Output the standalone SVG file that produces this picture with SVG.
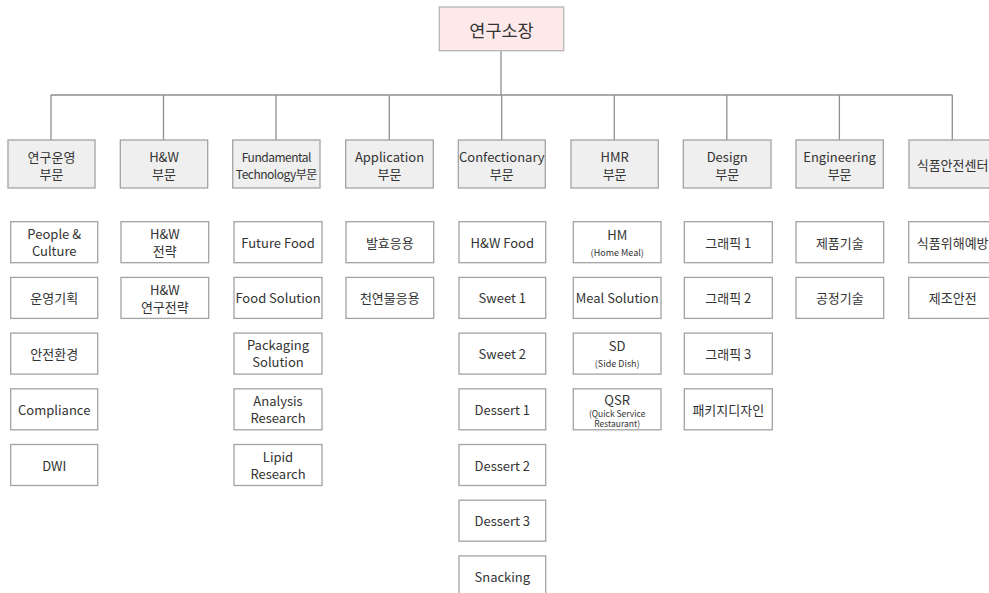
<svg xmlns="http://www.w3.org/2000/svg" width="989" height="593" viewBox="0 0 989 593">
<style>
text{font-family:"Noto Sans CJK KR","Noto Sans",sans-serif;fill:#333;text-anchor:middle;dominant-baseline:central;font-size:13px}
.root rect{fill:#fde9ea;stroke:#b5b5b5;stroke-width:1.3}
.root text{font-size:17.5px}
.dept rect{fill:#efefef;stroke:#a3a3a3;stroke-width:1.3}
.child rect{fill:#fff;stroke:#a3a3a3;stroke-width:1.3}
.sm{font-size:9px}
.xs{font-size:8.5px}
.fund{font-size:12px;letter-spacing:-0.5px}
#connectors path{fill:none;stroke:#8f8f8f;stroke-width:1.3}
</style>
<rect width="989" height="593" fill="#fff"/>
<g id="connectors">
<path d="M501 50.7V95M50.7 95H952.3"/>
<path d="M51 95V140M163.5 95V140M276 95V140M389.3 95V140M501.7 95V140M614.3 95V140M726.8 95V140M839.4 95V140M952.3 95V140"/>
</g>
<g id="root" class="root"><rect x="439.3" y="7" width="124.4" height="43.7"/><text x="501.5" y="29">연구소장</text></g>
<g id="dept-1" class="dept"><rect x="8" y="140" width="87" height="48"/><text x="51.5" y="156.5">연구운영</text><text x="51.5" y="173.3">부문</text></g>
<g id="dept-2" class="dept"><rect x="120.3" y="140" width="87.4" height="48"/><text x="164" y="156.5">H&amp;W</text><text x="164" y="173.3">부문</text></g>
<g id="dept-3" class="dept"><rect x="232.7" y="140" width="87.3" height="48"/><text x="276.3" y="156.5" class="fund">Fundamental</text><text x="276.3" y="173.3" class="fund">Technology부문</text></g>
<g id="dept-4" class="dept"><rect x="345.7" y="140" width="87.6" height="48"/><text x="389.5" y="156.5">Application</text><text x="389.5" y="173.3">부문</text></g>
<g id="dept-5" class="dept"><rect x="458.3" y="140" width="87" height="48"/><text x="501.8" y="156.5">Confectionary</text><text x="501.8" y="173.3">부문</text></g>
<g id="dept-6" class="dept"><rect x="571" y="140" width="87.3" height="48"/><text x="614.6" y="156.5">HMR</text><text x="614.6" y="173.3">부문</text></g>
<g id="dept-7" class="dept"><rect x="683.3" y="140" width="87.7" height="48"/><text x="727.2" y="156.5">Design</text><text x="727.2" y="173.3">부문</text></g>
<g id="dept-8" class="dept"><rect x="796" y="140" width="87.3" height="48"/><text x="839.6" y="156.5">Engineering</text><text x="839.6" y="173.3">부문</text></g>
<g id="dept-9" class="dept"><rect x="909" y="140" width="87.3" height="48"/><text x="952.6" y="164">식품안전센터</text></g>

<g id="c1-1" class="child"><rect x="10.7" y="221.7" width="87" height="41"/><text x="54.2" y="233.5">People &amp;</text><text x="54.2" y="250.5">Culture</text></g>
<g id="c1-2" class="child"><rect x="10.7" y="277.4" width="87" height="41"/><text x="54.2" y="297.9">운영기획</text></g>
<g id="c1-3" class="child"><rect x="10.7" y="333.1" width="87" height="41"/><text x="54.2" y="353.6">안전환경</text></g>
<g id="c1-4" class="child"><rect x="10.7" y="388.8" width="87" height="41"/><text x="54.2" y="409.3">Compliance</text></g>
<g id="c1-5" class="child"><rect x="10.7" y="444.5" width="87" height="41"/><text x="54.2" y="465">DWI</text></g>

<g id="c2-1" class="child"><rect x="121" y="221.7" width="87.7" height="41"/><text x="164.8" y="233.5">H&amp;W</text><text x="164.8" y="250.5">전략</text></g>
<g id="c2-2" class="child"><rect x="121" y="277.4" width="87.7" height="41"/><text x="164.8" y="289.2">H&amp;W</text><text x="164.8" y="306.2">연구전략</text></g>

<g id="c3-1" class="child"><rect x="234" y="221.7" width="88" height="41"/><text x="278" y="242.2">Future Food</text></g>
<g id="c3-2" class="child"><rect x="234" y="277.4" width="88" height="41"/><text x="278" y="297.9">Food Solution</text></g>
<g id="c3-3" class="child"><rect x="234" y="333.1" width="88" height="41"/><text x="278" y="344.9">Packaging</text><text x="278" y="361.9">Solution</text></g>
<g id="c3-4" class="child"><rect x="234" y="388.8" width="88" height="41"/><text x="278" y="400.6">Analysis</text><text x="278" y="417.6">Research</text></g>
<g id="c3-5" class="child"><rect x="234" y="444.5" width="88" height="41"/><text x="278" y="456.3">Lipid</text><text x="278" y="473.3">Research</text></g>

<g id="c4-1" class="child"><rect x="346" y="221.7" width="87.7" height="41"/><text x="389.8" y="242.2">발효응용</text></g>
<g id="c4-2" class="child"><rect x="346" y="277.4" width="87.7" height="41"/><text x="389.8" y="297.9">천연물응용</text></g>

<g id="c5-1" class="child"><rect x="459" y="221.7" width="86.7" height="41"/><text x="502.3" y="242.2">H&amp;W Food</text></g>
<g id="c5-2" class="child"><rect x="459" y="277.4" width="86.7" height="41"/><text x="502.3" y="297.9">Sweet 1</text></g>
<g id="c5-3" class="child"><rect x="459" y="333.1" width="86.7" height="41"/><text x="502.3" y="353.6">Sweet 2</text></g>
<g id="c5-4" class="child"><rect x="459" y="388.8" width="86.7" height="41"/><text x="502.3" y="409.3">Dessert 1</text></g>
<g id="c5-5" class="child"><rect x="459" y="444.5" width="86.7" height="41"/><text x="502.3" y="465">Dessert 2</text></g>
<g id="c5-6" class="child"><rect x="459" y="500.2" width="86.7" height="41"/><text x="502.3" y="520.7">Dessert 3</text></g>
<g id="c5-7" class="child"><rect x="459" y="555.9" width="86.7" height="41"/><text x="502.3" y="576.4">Snacking</text></g>

<g id="c6-1" class="child"><rect x="573.3" y="221.7" width="87.7" height="41"/><text x="617.2" y="234.3">HM</text><text x="617.2" y="252.3" class="sm">(Home Meal)</text></g>
<g id="c6-2" class="child"><rect x="573.3" y="277.4" width="87.7" height="41"/><text x="617.2" y="297.9">Meal Solution</text></g>
<g id="c6-3" class="child"><rect x="573.3" y="333.1" width="87.7" height="41"/><text x="617.2" y="345.7">SD</text><text x="617.2" y="363.7" class="sm">(Side Dish)</text></g>
<g id="c6-4" class="child"><rect x="573.3" y="388.8" width="87.7" height="41"/><text x="617.2" y="399.3">QSR</text><text x="617.2" y="413.3" class="xs">(Quick Service</text><text x="617.2" y="423.3" class="xs">Restaurant)</text></g>

<g id="c7-1" class="child"><rect x="684.3" y="221.7" width="88" height="41"/><text x="728.3" y="242.2">그래픽 1</text></g>
<g id="c7-2" class="child"><rect x="684.3" y="277.4" width="88" height="41"/><text x="728.3" y="297.9">그래픽 2</text></g>
<g id="c7-3" class="child"><rect x="684.3" y="333.1" width="88" height="41"/><text x="728.3" y="353.6">그래픽 3</text></g>
<g id="c7-4" class="child"><rect x="684.3" y="388.8" width="88" height="41"/><text x="728.3" y="409.3">패키지디자인</text></g>

<g id="c8-1" class="child"><rect x="796" y="221.7" width="87.7" height="41"/><text x="839.8" y="242.2">제품기술</text></g>
<g id="c8-2" class="child"><rect x="796" y="277.4" width="87.7" height="41"/><text x="839.8" y="297.9">공정기술</text></g>

<g id="c9-1" class="child"><rect x="908.7" y="221.7" width="88" height="41"/><text x="952.7" y="242.2">식품위해예방</text></g>
<g id="c9-2" class="child"><rect x="908.7" y="277.4" width="88" height="41"/><text x="952.7" y="297.9">제조안전</text></g>
</svg>
